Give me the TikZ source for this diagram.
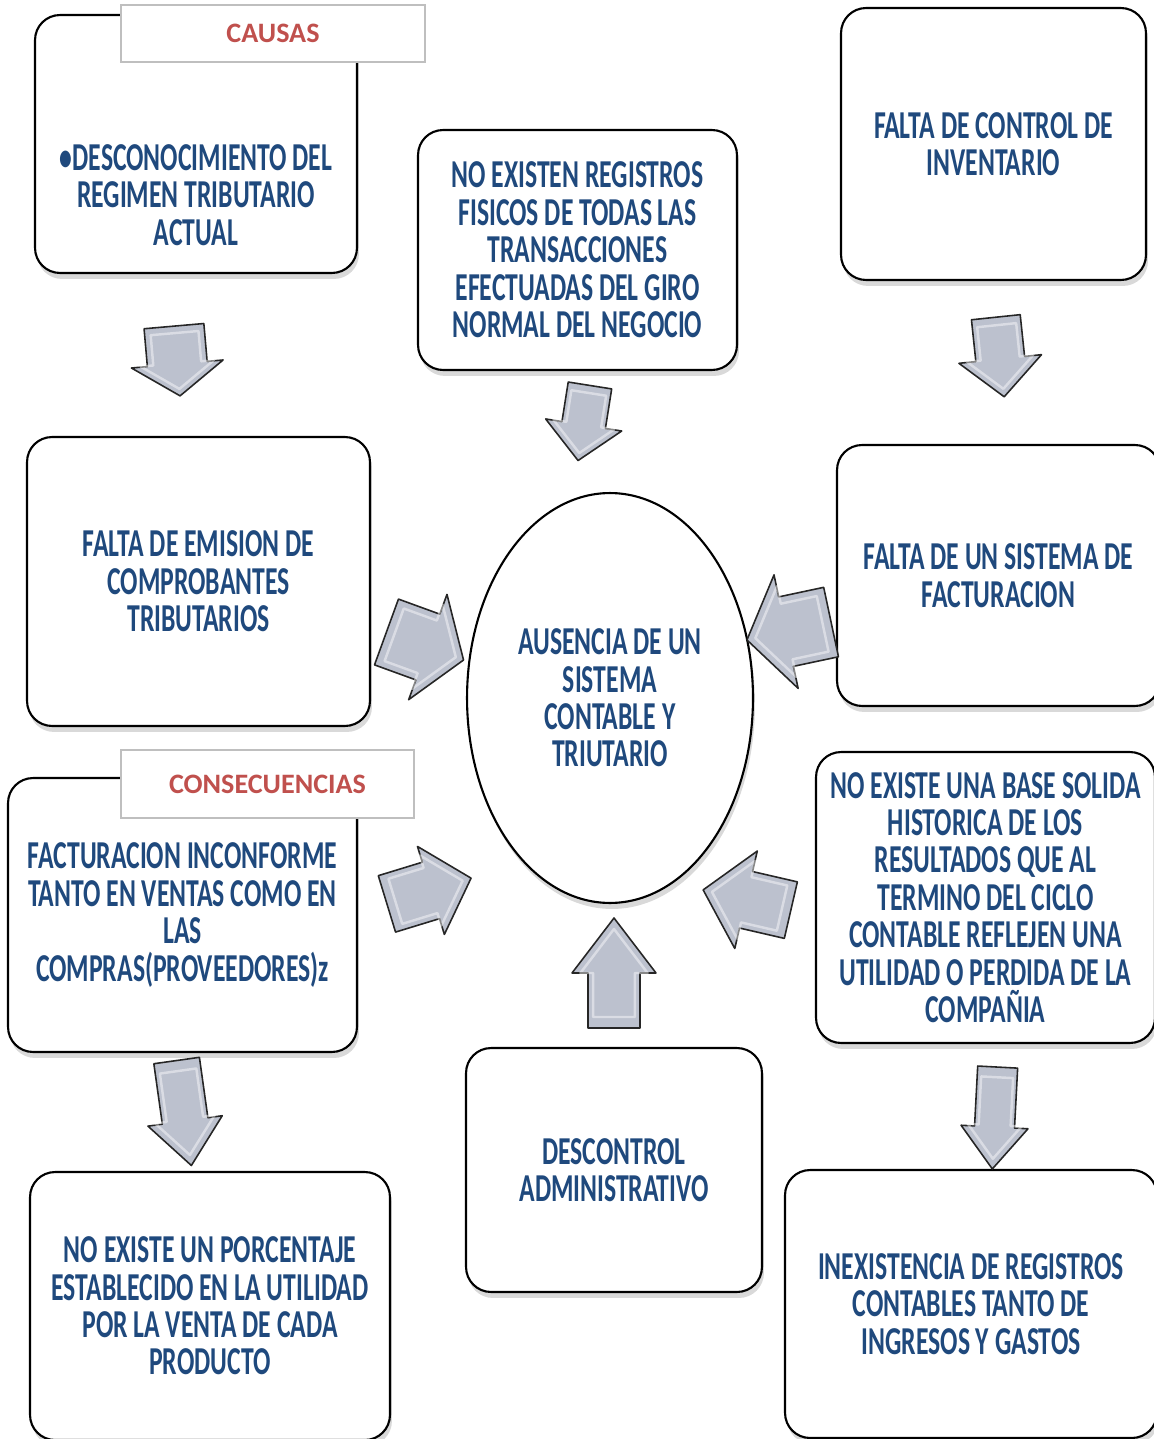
\documentclass[tikz,border=0pt]{standalone}
\usepackage{fontspec}
\setmainfont{Carlito}
\newfontfamily\narrowfont{Carlito}[FakeStretch=0.65]
\usetikzlibrary{shapes.geometric,shadows}
\definecolor{textblue}{RGB}{31,73,125}
\definecolor{labelred}{RGB}{192,80,77}
\definecolor{arrowfill}{RGB}{188,193,206}
\definecolor{labelgray}{RGB}{191,191,191}
\newcommand\boxsize{\fontsize{22.5}{21.3}\selectfont}
\tikzset{
  box/.style={rectangle, rounded corners=0.5cm, draw=black, line width=1.2pt, fill=white,
              drop shadow={shadow xshift=0.4mm, shadow yshift=-1.2mm, opacity=0.3},
              inner sep=0pt, align=center, text=textblue, font=\narrowfont\bfseries\boxsize},
  hub/.style={box, ellipse, rounded corners=0pt},
  boxtext/.style={align=center, text=textblue, font=\narrowfont\bfseries\boxsize},
  tag/.style={rectangle, draw=labelgray, line width=0.8pt, fill=white, inner sep=0pt,
              text=labelred, font=\bfseries\fontsize{16}{18}\selectfont},
  pics/blockarrow/.style n args={4}{code={
    \draw[fill=arrowfill, draw=black!85, line width=0.9pt, line join=round]
      (-#1/2,-#2/2) -- (#1/2-#4,-#2/2) -- (#1/2-#4,-#3/2) -- (#1/2,0)
      -- (#1/2-#4,#3/2) -- (#1/2-#4,#2/2) -- (-#1/2,#2/2) -- cycle;
    % reflejo interior
    \draw[scale=0.8, draw=white, line width=1.4pt, opacity=0.45, line join=round]
      (-#1/2,-#2/2) -- (#1/2-#4,-#2/2) -- (#1/2-#4,-#3/2) -- (#1/2,0)
      -- (#1/2-#4,#3/2) -- (#1/2-#4,#2/2) -- (-#1/2,#2/2) -- cycle;
  }},
}

\begin{document}
\begin{tikzpicture}[x=0.02cm, y=-0.02cm]
\useasboundingbox (0,0) rectangle (1153,1439);

% causas
\node[box, minimum width=6.44cm, minimum height=5.16cm,
      label={[boxtext, yshift=-1.02cm]center:{•DESCONOCIMIENTO DEL\\REGIMEN TRIBUTARIO\\ACTUAL}}]
  (regimen) at (196,144) {};
\node[box, minimum width=6.38cm, minimum height=4.8cm] (registros) at (577.5,250)
  {NO EXISTEN REGISTROS\\FISICOS DE TODAS LAS\\TRANSACCIONES\\EFECTUADAS DEL GIRO\\NORMAL DEL NEGOCIO};
\node[box, minimum width=6.1cm, minimum height=5.44cm] (inventario) at (993.5,144)
  {FALTA DE CONTROL DE\\INVENTARIO};
\node[box, minimum width=6.86cm, minimum height=5.78cm] (emision) at (198.5,581.5)
  {FALTA DE EMISION DE\\COMPROBANTES\\TRIBUTARIOS};
\node[box, minimum width=6.46cm, minimum height=5.22cm] (facturacion) at (998.5,575.5)
  {FALTA DE UN SISTEMA DE\\FACTURACION};

% problema central
\node[hub, minimum width=5.72cm, minimum height=8.2cm] (ausencia) at (610,698)
  {AUSENCIA DE UN\\SISTEMA\\CONTABLE Y\\TRIUTARIO};

% consecuencias
\node[box, minimum width=6.98cm, minimum height=5.48cm] (inconforme) at (182.5,915)
  {FACTURACION INCONFORME\\TANTO EN VENTAS COMO EN\\LAS\\COMPRAS(PROVEEDORES)z};
\node[box, minimum width=6.78cm, minimum height=5.82cm] (historica) at (985.5,897.5)
  {NO EXISTE UNA BASE SOLIDA\\HISTORICA DE LOS\\RESULTADOS QUE AL\\TERMINO DEL CICLO\\CONTABLE REFLEJEN UNA\\UTILIDAD O PERDIDA DE LA\\COMPAÑIA};
\node[box, minimum width=5.92cm, minimum height=4.88cm] (descontrol) at (614,1170)
  {DESCONTROL\\ADMINISTRATIVO};
\node[box, minimum width=7.2cm, minimum height=5.36cm] (porcentaje) at (210,1306)
  {NO EXISTE UN PORCENTAJE\\ESTABLECIDO EN LA UTILIDAD\\POR LA VENTA DE CADA\\PRODUCTO};
\node[box, minimum width=7.44cm, minimum height=5.36cm] (inexistencia) at (971,1304)
  {INEXISTENCIA DE REGISTROS\\CONTABLES TANTO DE\\INGRESOS Y GASTOS};

% etiquetas
\node[tag, minimum width=6.08cm, minimum height=1.14cm] (causas) at (273,33.5) {CAUSAS};
\node[tag, minimum width=5.86cm, minimum height=1.36cm] (consecuencias) at (267.5,784) {CONSECUENCIAS};

% flechas de bloque: x/y/angulo/largo/cuerpo/cabeza/punta
\foreach \px/\py/\ang/\len/\sw/\hw/\hl in {
    177/361/-85/70/60/92/32, 584/423/-99/76/44/77/36, 1000/357/-84/80/49/83/38,
    425/646/-20/82/70/112/38, 789/631/192/86/71/116/40,
    429/891/17/88/59/92/42, 747/900/167/90/58/100/44, 614/973/90/110/52/84/55,
    184/1113/-82/106/46/75/45, 995/1118/-93/102/40/67/42}
  \pic[rotate=\ang] at (\px,\py) {blockarrow={\len}{\sw}{\hw}{\hl}};
\end{tikzpicture}
\end{document}
